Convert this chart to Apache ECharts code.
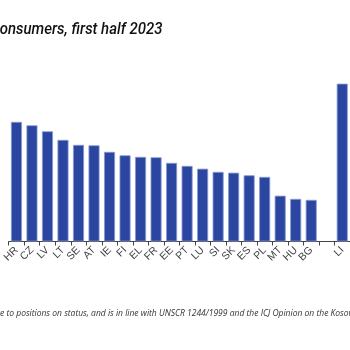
<!DOCTYPE html>
<html>
<head>
<meta charset="utf-8">
<script src="https://cdn.jsdelivr.net/npm/echarts@6/dist/echarts.min.js"></script>
<style>
  html, body { margin: 0; padding: 0; background: #fff; }
  #chart { width: 350px; height: 350px; }
</style>
</head>
<body>
<div id="chart"></div>
<script>
// countries shown in the visible part of the chart ('' = spacer slot)
const countries = ['HR', 'CZ', 'LV', 'LT', 'SE', 'AT', 'IE', 'FI', 'EL', 'FR', 'EE',
  'PT', 'LU', 'SI', 'SK', 'ES', 'PL', 'MT', 'HU', 'BG', '', 'LI'];
// values (no axis visible, relative units)
const values = [59.8, 58.1, 55.1, 50.8, 48.3, 48.1, 44.8, 43.1, 42.3, 42.1, 39.3,
  37.8, 36.4, 34.8, 34.4, 33.1, 32.3, 22.9, 21.3, 20.8, null, 78.9];

const titleText = 'Electricity prices for household consumers, first half 2023';
const notePrefix = '* This designation is without prejudic';
const noteText = notePrefix + 'e to positions on status, and is in line with UNSCR 1244/1999 and the ICJ Opinion on the Kosovo declaration of independence.';

const noteFont = 'italic 8.5px "Open Sans"';
const ctx = document.createElement('canvas').getContext('2d');
ctx.font = noteFont;
const prefixW = ctx.measureText(notePrefix).width;

const chart = echarts.init(document.getElementById('chart'));

const option = {
  animation: false,
  grid: {
    left: -3.5,
    width: 353.5,
    top: 41.5,
    height: 200
  },
  xAxis: {
    type: 'category',
    data: countries,
    axisLine: { lineStyle: { color: '#444', width: 1 } },
    axisTick: { show: true, length: 4, interval: 0, lineStyle: { color: '#444' } },
    axisLabel: {
      interval: 0,
      rotate: 45,
      margin: 7,
      fontSize: 10.5,
      color: '#444',
      fontFamily: 'Liberation Sans'
    }
  },
  yAxis: {
    type: 'value',
    min: 0,
    max: 100,
    show: false
  },
  series: [{
    type: 'bar',
    data: values,
    barWidth: 11,
    itemStyle: {
      color: '#2a46a1',
      borderColor: '#8899d2',
      borderWidth: 0.8
    }
  }],
  graphic: [
    {
      type: 'text',
      x: 162.5,
      y: 30,
      scaleX: 0.88,
      style: {
        text: titleText,
        align: 'right',
        verticalAlign: 'middle',
        font: 'italic 500 17px "Roboto"',
        fill: '#111'
      }
    },
    {
      type: 'text',
      x: -prefixW,
      y: 314,
      style: {
        text: noteText,
        align: 'left',
        verticalAlign: 'middle',
        font: noteFont,
        fill: '#333'
      }
    }
  ]
};

chart.setOption(option);
</script>
</body>
</html>
